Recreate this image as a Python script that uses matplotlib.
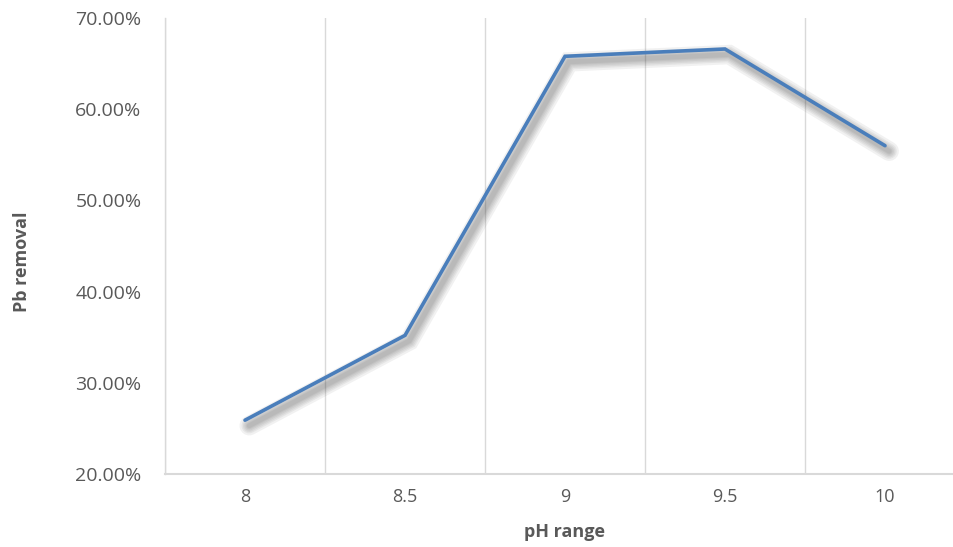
import numpy as np
import matplotlib.pyplot as plt
import matplotlib.patheffects as pe
from matplotlib.ticker import FixedLocator, PercentFormatter

# pH values and measured Pb removal (%)
ph_labels = ["8", "8.5", "9", "9.5", "10"]
pb_removal = [25.9, 35.2, 65.8, 66.6, 56.0]

plt.rcParams['font.family'] = ['Open Sans', 'DejaVu Sans']

fig = plt.figure(figsize=(9.54, 5.47), dpi=100)
ax = fig.add_axes([165 / 954, 73 / 547, 800 / 954, 456 / 547])

x = np.arange(len(ph_labels))

# soft drop shadow built from a few widened, faint offset copies
shadow = [pe.SimpleLineShadow(offset=(3, -4), shadow_color='#404040', alpha=0.07,
                              linewidth=w) for w in (14, 11, 9, 7, 5, 3.5)]
ax.plot(x, pb_removal, color='#4a7ebb', linewidth=2.6, solid_capstyle='round',
        solid_joinstyle='miter', zorder=3,
        path_effects=shadow + [pe.Normal()])

ax.set_xlim(-0.5, len(ph_labels) - 0.5)
ax.set_ylim(20, 70)
ax.set_xticks(x)
ax.set_xticklabels(ph_labels)
ax.set_yticks(np.arange(20, 71, 10))
ax.yaxis.set_major_formatter(PercentFormatter(decimals=2))

# vertical gridlines between categories
ax.xaxis.set_minor_locator(FixedLocator(np.arange(-0.5, len(ph_labels), 1.0)))
ax.grid(True, axis='x', which='minor', color='#d9d9d9', linewidth=1.0)
ax.grid(False, axis='x', which='major')

for side in ('top', 'right'):
    ax.spines[side].set_visible(False)
ax.spines['left'].set_color('#d9d9d9')
ax.spines['left'].set_linewidth(1.0)
ax.spines['bottom'].set_color('#d9d9d9')
ax.spines['bottom'].set_linewidth(1.5)

ax.tick_params(axis='both', which='both', length=0, colors='#595959')
ax.tick_params(axis='x', labelsize=13, pad=10)
ax.tick_params(axis='y', labelsize=14, pad=17)

ax.set_xlabel('pH range', fontsize=13, fontweight='bold', color='#595959', labelpad=12)
ax.set_ylabel('Pb removal', fontsize=13, fontweight='bold', color='#595959', va='center')
ax.yaxis.set_label_coords(-0.179, 0.465)

fig.savefig('out.png', dpi=100)
